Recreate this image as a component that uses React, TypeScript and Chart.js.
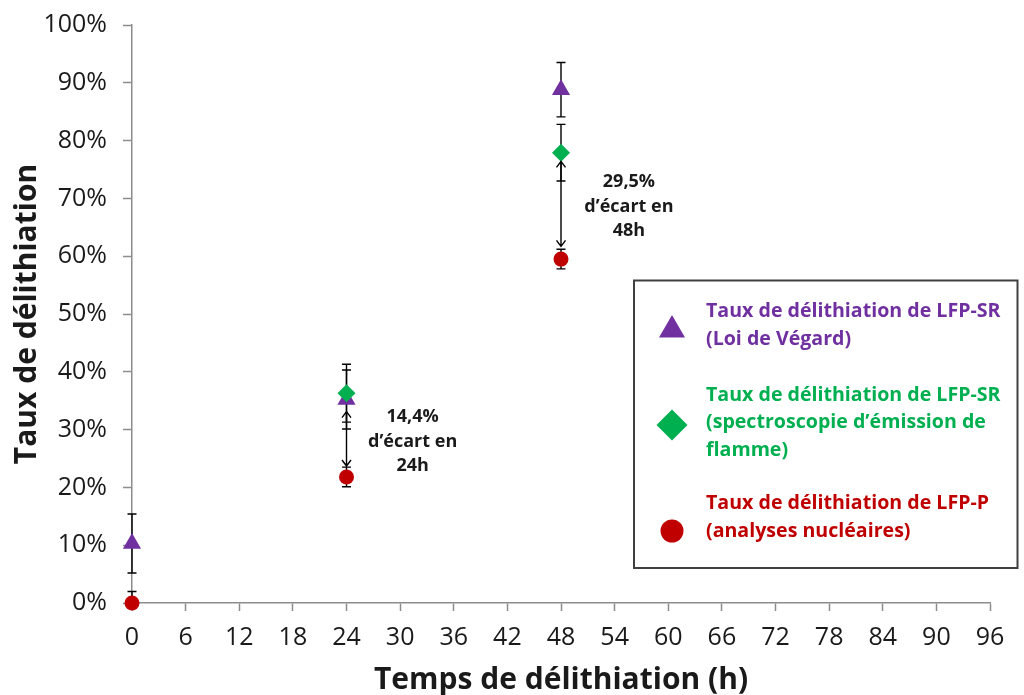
import React, { useEffect, useRef } from 'react';
import { Chart, registerables } from 'chart.js';

Chart.register(...registerables);

// ---- Data ----
const HOURS_VEGARD = [0, 24, 48];
const RATE_VEGARD = [10.3, 35.2, 88.8];
const ERR_VEGARD = [5.1, 5.1, 4.7];

const HOURS_FLAME = [24, 48];
const RATE_FLAME = [36.3, 77.9];
const ERR_FLAME = [5.0, 4.9];

const HOURS_NUCLEAR = [0, 24, 48];
const RATE_NUCLEAR = [0, 21.8, 59.5];
const ERR_NUCLEAR = [2.0, 1.7, 1.7];

const X_MIN = 0;
const X_MAX = 96;
const X_STEP = 6;
const Y_MIN = 0;
const Y_MAX = 100;
const Y_STEP = 10;

const X_TITLE = 'Temps de délithiation (h)';
const Y_TITLE = 'Taux de délithiation';

const LEGEND_VEGARD = ['Taux de délithiation de LFP-SR', '(Loi de Végard)'];
const LEGEND_FLAME = ['Taux de délithiation de LFP-SR', '(spectroscopie d\u2019émission de', 'flamme)'];
const LEGEND_NUCLEAR = ['Taux de délithiation de LFP-P', '(analyses nucléaires)'];

// Gap arrows (between flame and nuclear values)
const ARROW_HOURS = [24, 48];
const ARROW_FROM = [33.1, 76.4];
const ARROW_TO = [23.7, 61.7];

const NOTE_LINES = [
  ['14,4%', 'd\u2019écart en', '24h'],
  ['29,5%', 'd\u2019écart en', '48h'],
];
const NOTE_X = [31.4, 55.6];
const NOTE_Y = [27.9, 68.6];

// ---- Styles ----
const PURPLE = '#7030A0';
const GREEN = '#00B050';
const RED = '#C00000';
const AXIS = '#8c8c8c';
const TEXT = '#1a1a1a';
const FONT = '"Open Sans", "DejaVu Sans", sans-serif';

const SERIES = [
  { x: HOURS_VEGARD, y: RATE_VEGARD, err: ERR_VEGARD },
  { x: HOURS_FLAME, y: RATE_FLAME, err: ERR_FLAME },
  { x: HOURS_NUCLEAR, y: RATE_NUCLEAR, err: ERR_NUCLEAR },
];

const toPoints = (xs: number[], ys: number[]) => xs.map((x, i) => ({ x, y: ys[i] }));

const errorBarsPlugin = {
  id: 'errorBars',
  beforeDatasetsDraw(chart: any) {
    const { ctx, chartArea, scales } = chart;
    const xs = scales.x;
    const ys = scales.y;
    ctx.save();
    ctx.beginPath();
    ctx.rect(chartArea.left - 10, chartArea.top - 10, chartArea.width + 20, chartArea.height + 10);
    ctx.clip();
    ctx.strokeStyle = '#000';
    ctx.lineWidth = 1.4;
    const cap = 4.5;
    SERIES.forEach((s) => {
      s.x.forEach((xv, i) => {
        const px = xs.getPixelForValue(xv);
        const top = ys.getPixelForValue(s.y[i] + s.err[i]);
        const bot = ys.getPixelForValue(s.y[i] - s.err[i]);
        ctx.beginPath();
        ctx.moveTo(px, top);
        ctx.lineTo(px, bot);
        ctx.moveTo(px - cap, top);
        ctx.lineTo(px + cap, top);
        ctx.moveTo(px - cap, bot);
        ctx.lineTo(px + cap, bot);
        ctx.stroke();
      });
    });
    ctx.restore();
  },
  afterDatasetsDraw(chart: any) {
    const { ctx, scales } = chart;
    const xs = scales.x;
    const ys = scales.y;
    ctx.save();
    ctx.strokeStyle = '#000';
    ctx.lineWidth = 1.4;
    ARROW_HOURS.forEach((h, i) => {
      const px = xs.getPixelForValue(h);
      const a = ys.getPixelForValue(ARROW_FROM[i]);
      const b = ys.getPixelForValue(ARROW_TO[i]);
      ctx.beginPath();
      ctx.moveTo(px, a);
      ctx.lineTo(px, b);
      ctx.moveTo(px - 4.5, a + 6);
      ctx.lineTo(px, a);
      ctx.lineTo(px + 4.5, a + 6);
      ctx.moveTo(px - 4.5, b - 6);
      ctx.lineTo(px, b);
      ctx.lineTo(px + 4.5, b - 6);
      ctx.stroke();
    });
    // notes
    ctx.fillStyle = TEXT;
    ctx.font = `bold 18px ${FONT}`;
    ctx.textAlign = 'center';
    ctx.textBaseline = 'middle';
    NOTE_LINES.forEach((lines, i) => {
      const cx = xs.getPixelForValue(NOTE_X[i]);
      const cy = ys.getPixelForValue(NOTE_Y[i]);
      lines.forEach((t, j) => {
        ctx.fillText(t, cx, cy + (j - 1) * 24.5);
      });
    });
    ctx.restore();
  },
};

function drawMarker(ctx: CanvasRenderingContext2D, kind: string, x: number, y: number, r: number, color: string) {
  ctx.fillStyle = color;
  ctx.beginPath();
  if (kind === 'triangle') {
    ctx.moveTo(x, y - r);
    ctx.lineTo(x + r * 0.866, y + r * 0.5);
    ctx.lineTo(x - r * 0.866, y + r * 0.5);
    ctx.closePath();
  } else if (kind === 'diamond') {
    ctx.moveTo(x, y - r);
    ctx.lineTo(x + r, y);
    ctx.lineTo(x, y + r);
    ctx.lineTo(x - r, y);
    ctx.closePath();
  } else {
    ctx.arc(x, y, r, 0, Math.PI * 2);
  }
  ctx.fill();
}

const LEGEND_ITEMS = [
  { lines: LEGEND_VEGARD, color: PURPLE, marker: 'triangle', r: 15, firstY: 311.5, markerY: 330 },
  { lines: LEGEND_FLAME, color: GREEN, marker: 'diamond', r: 15.5, firstY: 395, markerY: 425 },
  { lines: LEGEND_NUCLEAR, color: RED, marker: 'circle', r: 11.5, firstY: 503.5, markerY: 531 },
];

const legendPlugin = {
  id: 'customLegend',
  afterDraw(chart: any) {
    const { ctx } = chart;
    ctx.save();
    ctx.strokeStyle = '#404040';
    ctx.lineWidth = 2;
    ctx.strokeRect(634, 280.5, 383.5, 287.5);
    ctx.font = `bold 19.6px ${FONT}`;
    ctx.textAlign = 'left';
    ctx.textBaseline = 'middle';
    LEGEND_ITEMS.forEach((it) => {
      drawMarker(ctx, it.marker, 672, it.markerY, it.r, it.color);
      ctx.fillStyle = it.color;
      it.lines.forEach((t, j) => ctx.fillText(t, 706, it.firstY + j * 27.8));
    });
    ctx.restore();
  },
};

export default function App() {
  const ref = useRef<HTMLCanvasElement | null>(null);

  useEffect(() => {
    if (!ref.current) return;
    const chart = new Chart(ref.current, {
      type: 'scatter',
      data: {
        datasets: [
          {
            label: LEGEND_VEGARD.join(' '),
            data: toPoints(HOURS_VEGARD, RATE_VEGARD),
            pointStyle: 'triangle',
            pointRadius: 10.5,
            backgroundColor: PURPLE,
            borderColor: PURPLE,
            borderWidth: 0,
            clip: false,
            order: 3,
          },
          {
            label: LEGEND_FLAME.join(' '),
            data: toPoints(HOURS_FLAME, RATE_FLAME),
            pointStyle: 'rectRot',
            pointRadius: 9,
            backgroundColor: GREEN,
            borderColor: GREEN,
            borderWidth: 0,
            clip: false,
            order: 2,
          },
          {
            label: LEGEND_NUCLEAR.join(' '),
            data: toPoints(HOURS_NUCLEAR, RATE_NUCLEAR),
            pointStyle: 'circle',
            pointRadius: 7.5,
            backgroundColor: RED,
            borderColor: RED,
            borderWidth: 0,
            clip: false,
            order: 1,
          },
        ],
      },
      options: {
        animation: false,
        responsive: true,
        maintainAspectRatio: false,
        layout: { padding: { top: 25, right: 34, left: 0, bottom: 0 } },
        plugins: {
          legend: { display: false },
          tooltip: { enabled: false },
        },
        scales: {
          x: {
            type: 'linear',
            min: X_MIN,
            max: X_MAX,
            afterFit: (s: any) => { s.height = 92; s.paddingLeft = 0; s.paddingRight = 0; },
            border: { display: true, color: AXIS, width: 1.5 },
            grid: { drawOnChartArea: false, drawTicks: true, tickLength: 8, tickColor: AXIS, tickWidth: 1.5 },
            ticks: {
              stepSize: X_STEP,
              color: TEXT,
              padding: 12,
              maxRotation: 0,
              font: { family: FONT, size: 25, lineHeight: 1.2 },
            },
            title: {
              display: true,
              text: X_TITLE,
              color: TEXT,
              font: { family: FONT, size: 30, weight: 'bold', lineHeight: 1 },
              padding: { top: 0, bottom: 0 },
            },
          },
          y: {
            type: 'linear',
            min: Y_MIN,
            max: Y_MAX,
            afterFit: (s: any) => { s.width = 132; s.paddingTop = 0; s.paddingBottom = 0; },
            border: { display: true, color: AXIS, width: 1.5 },
            grid: { drawOnChartArea: false, drawTicks: true, tickLength: 9, tickColor: AXIS, tickWidth: 1.5 },
            ticks: {
              stepSize: Y_STEP,
              color: TEXT,
              padding: 16,
              font: { family: FONT, size: 25, lineHeight: 1.2 },
              callback: (v: any) => `${v}%`,
            },
            title: {
              display: true,
              text: Y_TITLE,
              color: TEXT,
              font: { family: FONT, size: 30, weight: 'bold', lineHeight: 1 },
              padding: { top: 12, bottom: 0 },
            },
          },
        },
      },
      plugins: [errorBarsPlugin, legendPlugin],
    });
    return () => chart.destroy();
  }, []);

  return (
    <div style={{ position: 'fixed', left: 0, top: 0, width: 1024, height: 695, background: '#fff' }}>
      <canvas ref={ref} />
    </div>
  );
}
